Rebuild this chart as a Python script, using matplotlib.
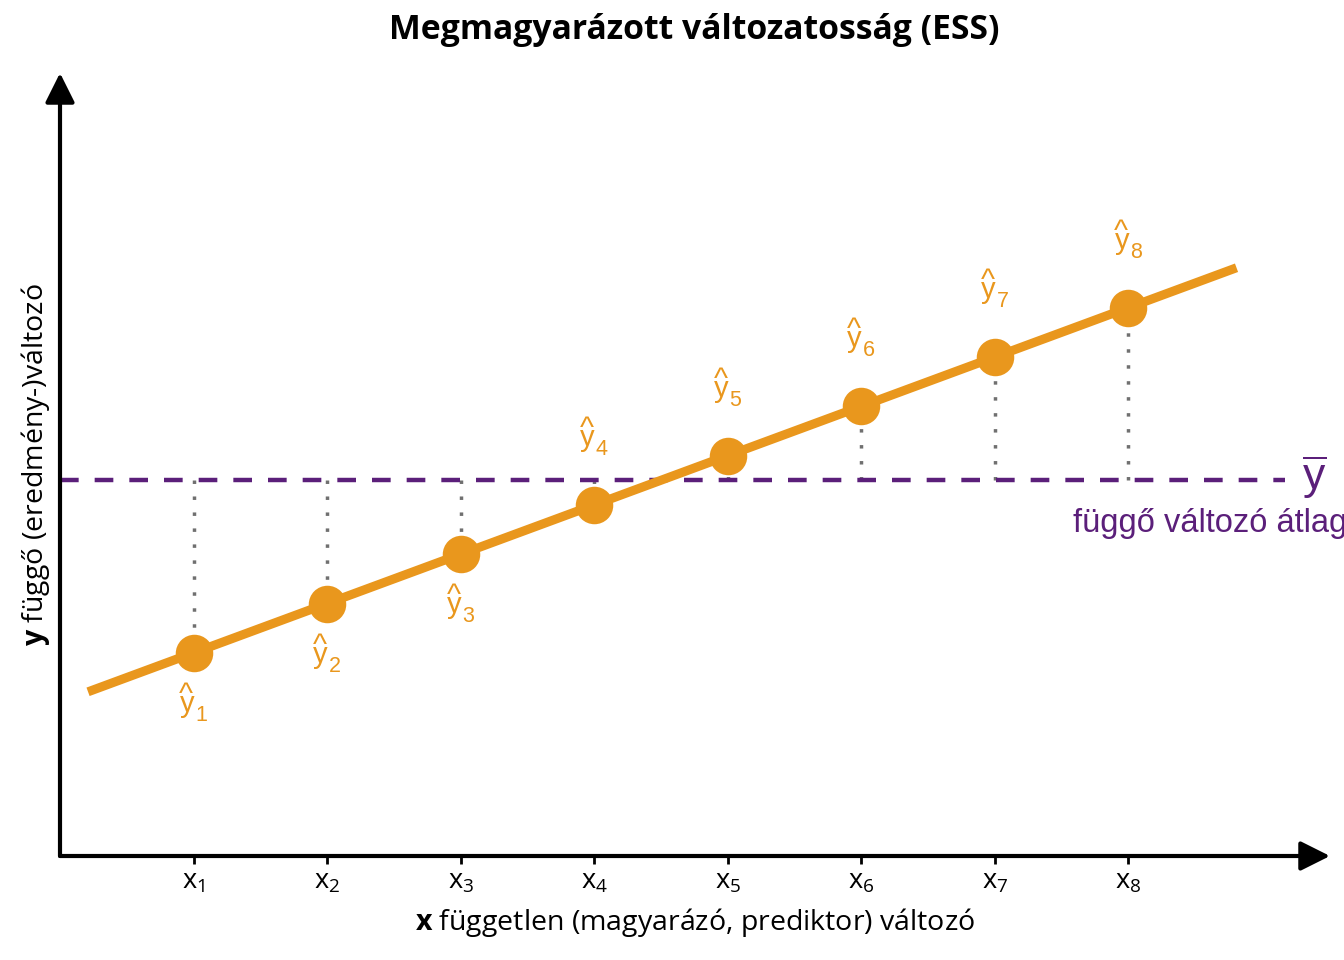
import matplotlib
matplotlib.use("Agg")
import matplotlib.pyplot as plt

# ---- data ----
x_vals = [1, 2, 3, 4, 5, 6, 7, 8]
x_labels = [r"$\mathregular{x_{%d}}$" % i for i in x_vals]
y_hat = [4.12, 5.12, 6.12, 7.12, 8.12, 9.12, 10.12, 11.12]
y_hat_subs = [str(i) for i in x_vals]
label_above = [False, False, False, True, True, True, True, True]
y_mean = 7.62
line_x = [0.21, 8.81]
line_y = [3.33, 11.93]
mean_line_x = [0.0, 9.17]
x_max = 9.51
y_max = 15.88

title = "Megmagyarázott változatosság (ESS)"
xlabel_bold = "x"
xlabel_rest = " független (magyarázó, prediktor) változó"
ylabel_bold = "y"
ylabel_rest = " függő (eredmény-)változó"
mean_text = "függő változó átlaga"

ORANGE = "#E9971D"
PURPLE = "#5B1F7A"
GREY = "#707070"

plt.rcParams["font.family"] = ["Open Sans", "DejaVu Sans"]
plt.rcParams["mathtext.fontset"] = "custom"
plt.rcParams["mathtext.rm"] = "Open Sans"
plt.rcParams["mathtext.bf"] = "Open Sans:bold"

fig = plt.figure(figsize=(13.44, 9.6), dpi=100)
ax = fig.add_axes([60 / 1344, 104 / 960, (1330 - 60) / 1344, (856 - 73) / 960])
ax.set_xlim(0, x_max)
ax.set_ylim(0, y_max)
for s in ax.spines.values():
    s.set_visible(False)

# axes arrows
arrow_style = "-|>,head_length=0.9,head_width=0.45"
ax.annotate("", xy=(x_max, 0), xytext=(0, 0),
            arrowprops=dict(arrowstyle=arrow_style, lw=3, color="black",
                            mutation_scale=20, shrinkA=0, shrinkB=0),
            annotation_clip=False, zorder=5)
ax.annotate("", xy=(0, y_max), xytext=(0, 0),
            arrowprops=dict(arrowstyle=arrow_style, lw=3, color="black",
                            mutation_scale=20, shrinkA=0, shrinkB=0),
            annotation_clip=False, zorder=5)

# ticks
ax.set_xticks(x_vals)
ax.set_xticklabels(x_labels, fontsize=19.5)
ax.tick_params(axis="x", direction="out", length=5.5, width=2, pad=3, colors="black")
ax.set_yticks([])

# mean line
ax.plot(mean_line_x, [y_mean, y_mean], color=PURPLE, lw=3.2,
        linestyle=(0, (4.2, 3.6)), solid_capstyle="butt", dash_capstyle="butt",
        zorder=2, clip_on=False)

# dotted deviations
for xv, yv in zip(x_vals, y_hat):
    ax.plot([xv, xv], [y_mean, yv], color=GREY, lw=2.5,
            linestyle=(0, (1, 3.6)), dash_capstyle="butt", zorder=1)

# regression line and points
ax.plot(line_x, line_y, color=ORANGE, lw=6.5, solid_capstyle="butt", zorder=3)
ax.plot(x_vals, y_hat, "o", color=ORANGE, markersize=27, markeredgewidth=0, zorder=4)

# y-hat labels
lab_font = dict(color=ORANGE, fontfamily="Liberation Sans", zorder=6)
for xv, yv, sub, above in zip(x_vals, y_hat, y_hat_subs, label_above):
    dy = 42.5 if above else -42.5
    ax.annotate("y", xy=(xv, yv), xytext=(0.5, dy), textcoords="offset points",
                ha="right", va="baseline", fontsize=21, **lab_font)
    ax.annotate(sub, xy=(xv, yv), xytext=(1.2, dy - 6.5), textcoords="offset points",
                ha="left", va="baseline", fontsize=15.5, **lab_font)
    ax.annotate("^", xy=(xv, yv), xytext=(-5.2, dy + 6.5), textcoords="offset points",
                ha="center", va="baseline", fontsize=21.5, **lab_font)

# mean label
ax.annotate(r"$\mathregular{\overline{y}}$", xy=(mean_line_x[1], y_mean), xytext=(21, -7),
            textcoords="offset points", ha="center", va="baseline", fontsize=32,
            color=PURPLE, fontfamily="Liberation Sans", annotation_clip=False)
ax.annotate(mean_text, xy=(mean_line_x[1], y_mean), xytext=(-152, -37),
            textcoords="offset points", ha="left", va="baseline", fontsize=23.5,
            color=PURPLE, fontfamily="Liberation Sans", annotation_clip=False)

# axis labels
ax.set_xlabel(r"$\mathbf{%s}$" % xlabel_bold + xlabel_rest, fontsize=20.5, labelpad=7)
ax.set_ylabel(r"$\mathbf{%s}$" % ylabel_bold + ylabel_rest, fontsize=20.5, labelpad=6)

fig.text(694 / 1344, 1 - 30 / 960, title, ha="center", va="center",
         fontsize=24.3, fontweight="bold")

fig.savefig("out.png", dpi=100)
